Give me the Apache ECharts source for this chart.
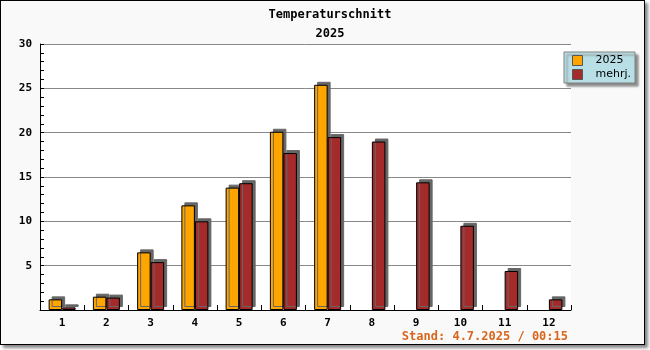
<!DOCTYPE html>
<html>
<head>
<meta charset="utf-8">
<script src="https://cdn.jsdelivr.net/npm/echarts@6/dist/echarts.min.js"></script>
<style>
  html, body { margin: 0; padding: 0; background: #ffffff; }
  #frame {
    position: absolute; left: 0; top: 0;
    width: 643px; height: 343px;
    border: 1px solid #000;
    background: #f9f9f9;
    box-shadow: 3px 3px 3px #888;
  }
  #chart { position: absolute; left: 0; top: 0; width: 650px; height: 350px; }
</style>
</head>
<body>
<div id="frame"></div>
<div id="chart"></div>
<script>
// Monthly average temperatures
const months = ['1', '2', '3', '4', '5', '6', '7', '8', '9', '10', '11', '12'];
const values2025 = [1.2, 1.5, 6.5, 11.8, 13.8, 20.1, 25.4, null, null, null, null, null];
const valuesMultiYear = [0.3, 1.4, 5.4, 10.0, 14.3, 17.7, 19.5, 19.0, 14.4, 9.5, 4.4, 1.2];
const yTicks = [0, 5, 10, 15, 20, 25, 30];

const monoFont = '"DejaVu Sans Mono", monospace';

const chart = echarts.init(document.getElementById('chart'), null, { renderer: 'canvas' });

const barStyle = (color) => ({
  color: color,
  borderColor: '#000',
  borderWidth: 1,
  shadowColor: '#666',
  shadowBlur: 0,
  shadowOffsetX: 3,
  shadowOffsetY: -3
});

chart.setOption({
  backgroundColor: 'transparent',
  animation: false,
  title: [
    {
      text: 'Temperaturschnitt',
      left: 325, top: 4, textAlign: 'center',
      textStyle: { fontFamily: monoFont, fontWeight: 'bold', fontSize: 12, color: '#000' }
    },
    {
      text: '2025',
      left: 325, top: 23, textAlign: 'center',
      textStyle: { fontFamily: monoFont, fontWeight: 'bold', fontSize: 12, color: '#000' }
    },
    {
      text: 'Stand: 4.7.2025 / 00:15',
      right: 77, top: 326,
      textStyle: { fontFamily: monoFont, fontWeight: 'bold', fontSize: 12, color: '#d8661c' }
    }
  ],
  legend: {
    left: 564, top: 52,
    orient: 'vertical',
    backgroundColor: '#b8dfe6',
    borderColor: '#808080',
    borderWidth: 1,
    padding: [3, 4, 3, 8],
    itemGap: 3,
    itemWidth: 10,
    itemHeight: 10,
    itemTextGap: 5,
    shadowColor: '#888',
    shadowBlur: 2,
    shadowOffsetX: 3,
    shadowOffsetY: 3,
    icon: 'rect',
    itemStyle: { borderColor: '#555', borderWidth: 1, shadowColor: 'transparent', shadowOffsetX: 0, shadowOffsetY: 0 },
    textStyle: {
      fontFamily: '"DejaVu Sans", sans-serif', fontSize: 11, color: '#000',
      padding: [0, 0, 0, 8]
    },
    data: ['2025', 'mehrj.']
  },
  grid: {
    left: 40, top: 44, right: 79, bottom: 40,
    show: true, backgroundColor: '#ffffff', borderWidth: 0
  },
  xAxis: {
    type: 'category',
    data: months,
    axisLine: { lineStyle: { color: '#000', width: 1 } },
    axisTick: { show: true, inside: true, length: 5, lineStyle: { color: '#000' } },
    axisLabel: { fontFamily: monoFont, fontWeight: 'bold', fontSize: 11, color: '#000', margin: 8 }
  },
  yAxis: {
    type: 'value',
    min: yTicks[0], max: yTicks[yTicks.length - 1], interval: 5,
    axisLine: { show: true, lineStyle: { color: '#000', width: 1 } },
    axisTick: { show: true, inside: true, length: 4, lineStyle: { color: '#000' } },
    minorTick: { show: true, splitNumber: 5, length: 4, lineStyle: { color: '#000' } },
    splitLine: { show: true, lineStyle: { color: '#888', width: 1 } },
    axisLabel: {
      fontFamily: monoFont, fontWeight: 'bold', fontSize: 11, color: '#000', margin: 8,
      formatter: (v) => (v === 0 ? '' : String(v))
    }
  },
  series: [
    {
      name: '2025', type: 'bar',
      data: values2025,
      barWidth: 13.5, barGap: '0%',
      itemStyle: barStyle('#ffa500')
    },
    {
      name: 'mehrj.', type: 'bar',
      data: valuesMultiYear,
      barWidth: 13.5, barGap: '0%',
      itemStyle: barStyle('#a52a2a')
    }
  ]
});
</script>
</body>
</html>
